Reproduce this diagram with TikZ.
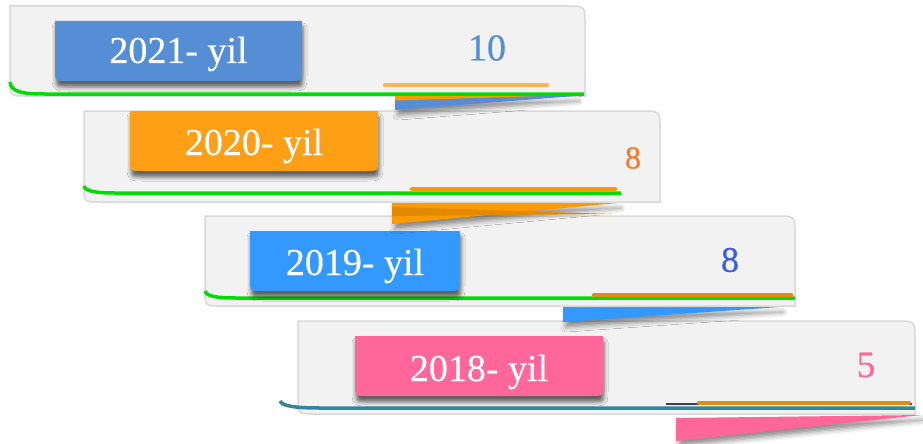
\documentclass[tikz,border=0pt]{standalone}
\usepackage{fontspec}
\setmainfont{Liberation Serif}[FakeBold=0.5]
\usetikzlibrary{shadows.blur}

\definecolor{panelgray}{HTML}{F2F2F2}
\definecolor{edgegray}{HTML}{D9D9D9}
\definecolor{tabblue}{HTML}{558ED5}
\definecolor{taborange}{HTML}{FF9F15}
\definecolor{tabsky}{HTML}{3399FF}
\definecolor{tabpink}{HTML}{FF6699}
\definecolor{valorange}{HTML}{ED7D31}
\definecolor{valblue}{HTML}{3A5BEE}
\definecolor{linegreen}{HTML}{00DD00}
\definecolor{lineteal}{HTML}{31859C}
\definecolor{pilllight}{HTML}{FFB74D}
\definecolor{pillorange}{HTML}{FF9900}
\definecolor{pilldark}{HTML}{E08E0B}
\definecolor{darkband}{HTML}{E08A00}
\definecolor{slate}{HTML}{3F3D5A}

\begin{document}
\begin{tikzpicture}[x=1pt,y=-1pt,
    panel/.style={fill=panelgray,draw=edgegray,line width=1.5pt},
    tab/.style={blur shadow={shadow xshift=1pt,shadow yshift=-6pt,shadow blur radius=4pt,shadow opacity=60}},
    flap/.style={blur shadow={shadow xshift=3pt,shadow yshift=-5pt,shadow blur radius=5pt,shadow opacity=45}},
    tabtext/.style={text=white,anchor=base,font=\fontsize{38}{40}\selectfont},
    valtext/.style={font=\fontsize{36}{38}\selectfont},
    baseline/.style={line width=3.5pt},
    pill/.style={line width=4.5pt,line cap=round}]
    \useasboundingbox (0,0) rectangle (923,444);

    % 2021
    \filldraw[panel] (10,6) -- (567,6) .. controls (585,6) .. (585,24) -- (585,96) -- (26,96) .. controls (10,96) .. (10,80) -- cycle;
    \draw[baseline,linegreen] (10,82) .. controls (11,92) and (22,94) .. (45,94) -- (584,94);
    \fill[tab,tabblue] (55,21) -- (302,21) -- (302,69) .. controls (302,81) .. (290,81) -- (67,81) .. controls (55,81) .. (55,69) -- cycle;
    \node[tabtext] (y21) at (178.5,63) {2021- yil};
    \draw[pill,pilllight] (385,85) -- (547,85);
    \node[valtext,text=tabblue,font=\fontsize{38}{40}\selectfont] (v21) at (487,48) {10};

    % 2020
    \filldraw[panel] (84,111) -- (642,111) .. controls (660,111) .. (660,129) -- (660,202) -- (100,202) .. controls (84,202) .. (84,186) -- cycle;
    \draw[baseline,linegreen] (84,186) .. controls (85,191) and (95,193) .. (115,193) -- (621,193);
    \fill[tab,taborange] (130,111) -- (378,111) -- (378,159) .. controls (378,171) .. (366,171) -- (142,171) .. controls (130,171) .. (130,159) -- cycle;
    \node[tabtext] (y20) at (254,155) {2020- yil};
    \draw[pill,pillorange] (412,189) -- (615,189);
    \node[valtext,text=valorange,font=\fontsize{32}{34}\selectfont] (v20) at (633,158) {8};

    % 2019
    \filldraw[panel] (205,216) -- (777,216) .. controls (795,216) .. (795,234) -- (795,306) -- (221,306) .. controls (205,306) .. (205,290) -- cycle;
    \draw[baseline,linegreen] (205,291) .. controls (206,296) and (216,298) .. (236,298) -- (795,298);
    \fill[tab,tabsky] (250,231) -- (460,231) -- (460,279) .. controls (460,291) .. (448,291) -- (262,291) .. controls (250,291) .. (250,279) -- cycle;
    \node[tabtext] (y19) at (355,275) {2019- yil};
    \draw[pill,pilldark] (594,295) -- (791,295);
    \node[valtext,text=valblue] (v19) at (730,260) {8};

    % 2018
    \filldraw[panel] (298,321) -- (897,321) .. controls (915,321) .. (915,339) -- (915,414) -- (314,414) .. controls (298,414) .. (298,398) -- cycle;
    \draw[baseline,lineteal] (280,401) .. controls (282,406) and (295,408) .. (320,408) -- (915,408);
    \fill[tab,tabpink] (355,336) -- (603,336) -- (603,384) .. controls (603,396) .. (591,396) -- (367,396) .. controls (355,396) .. (355,384) -- cycle;
    \node[tabtext] (y18) at (479,381) {2018- yil};
    \draw[line width=2pt,slate] (666,404) -- (912,404);
    \draw[pill,line width=4pt,pilldark] (699,402.5) -- (909,402.5);
    \node[valtext,text=tabpink,font=\fontsize{37}{39}\selectfont] (v18) at (866,365) {5};

    % flaps
    \fill[flap,tabblue] (395,96) -- (576,96) -- (395,110) -- cycle;
    \fill[pillorange] (395,96) -- (540,96) -- (395,100.5) -- cycle;
    \fill[flap,pillorange] (392,203) -- (618,203) -- (392,224) -- cycle;
    \fill[darkband] (392,207) -- (612,214) -- (392,216) -- cycle;
    \fill[flap,tabsky] (563,307) -- (780,307) -- (563,322) -- cycle;
    \fill[flap,tabpink] (676,418) -- (922,415) -- (676,441) -- cycle;
\end{tikzpicture}
\end{document}
